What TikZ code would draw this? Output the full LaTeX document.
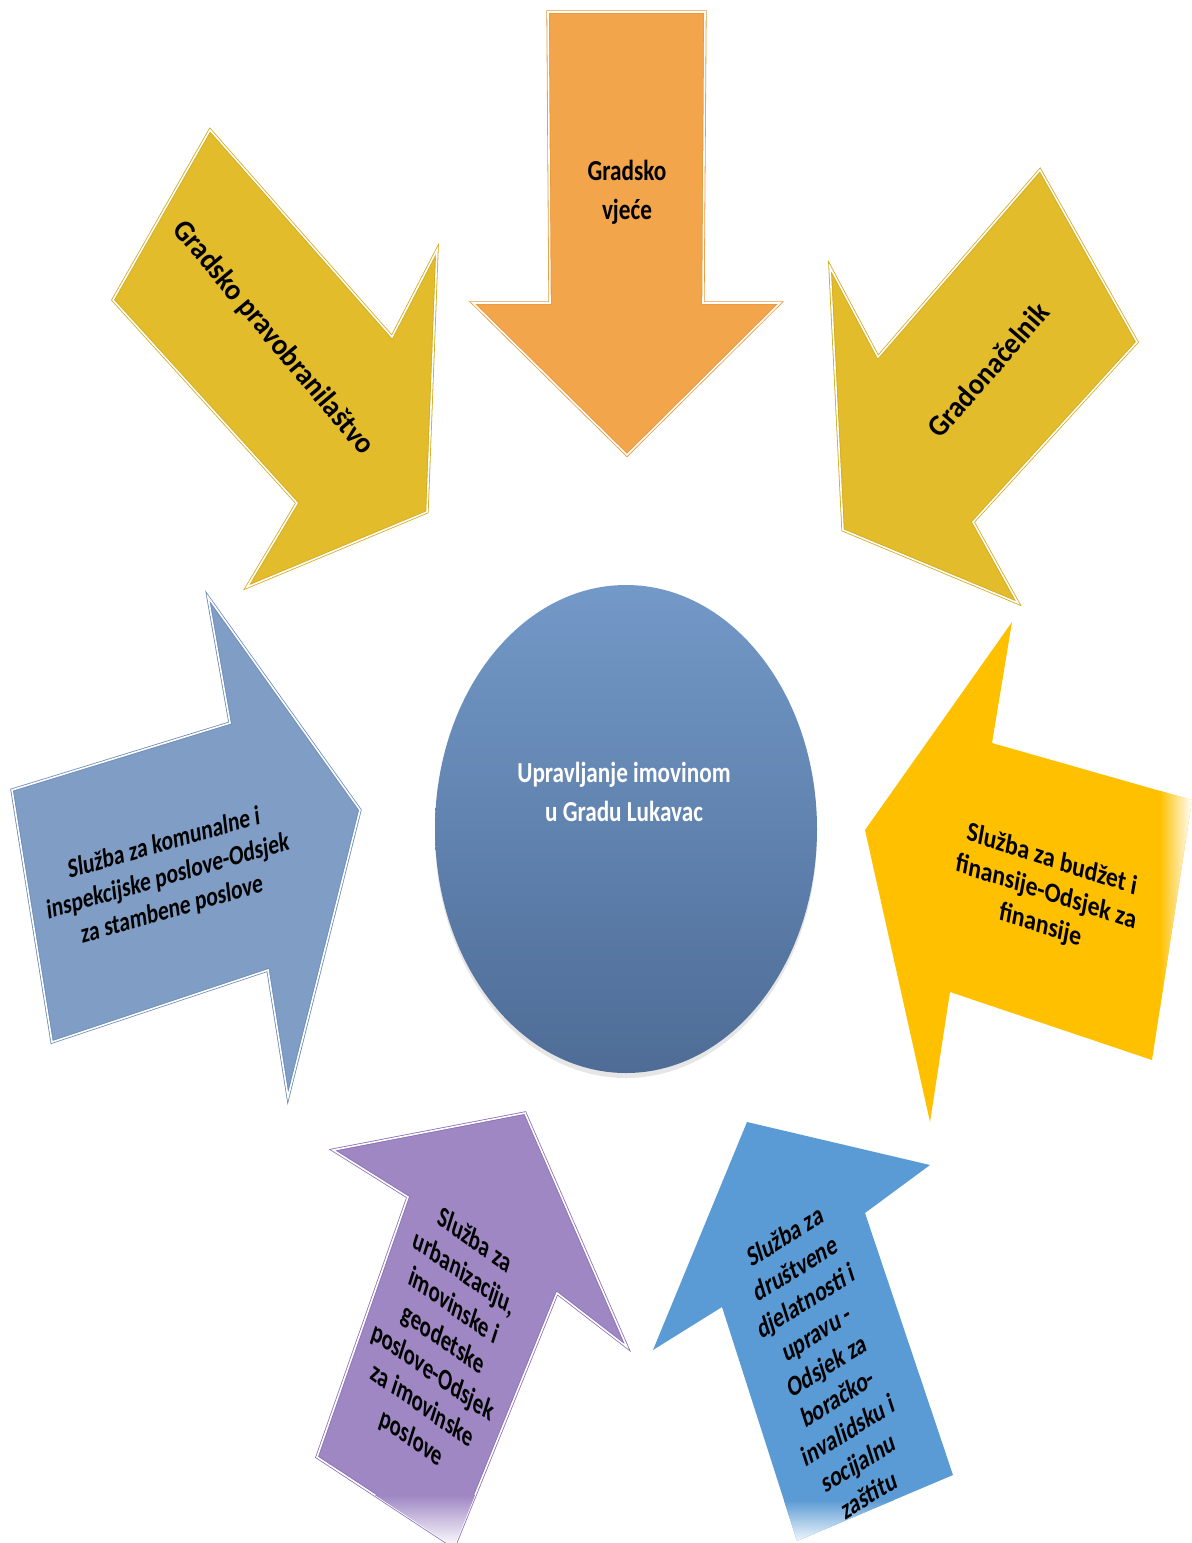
\documentclass[tikz,border=0pt]{standalone}
\usepackage{fontspec}
\setmainfont{Carlito}
\usetikzlibrary{shapes,shadows}

\definecolor{councilfill}{HTML}{F2A54B}
\definecolor{councilline}{HTML}{E8983B}
\definecolor{goldfill}{HTML}{E3BC2C}
\definecolor{goldline}{HTML}{D2AA1C}
\definecolor{housingfill}{HTML}{7F9DC5}
\definecolor{housingline}{HTML}{6D8CB8}
\definecolor{financefill}{HTML}{FFC000}
\definecolor{propertyfill}{HTML}{9F87C4}
\definecolor{propertyline}{HTML}{8A70B5}
\definecolor{socialfill}{HTML}{5B9BD5}
\definecolor{centretop}{HTML}{7399C8}
\definecolor{centrebottom}{HTML}{4E6C96}

\tikzstyle{arrowshape} = [line width=0.8pt, double=white, double distance=1.6pt, line join=miter]
\tikzstyle{caption} = [align=center, inner sep=0pt, font=\bfseries\fontsize{27}{33}\selectfont, xscale=0.85]
\tikzstyle{headcaption} = [align=center, inner sep=0pt, font=\bfseries\fontsize{29}{39}\selectfont, xscale=0.8]
\tikzstyle{longcaption} = [align=center, inner sep=0pt, font=\bfseries\fontsize{30}{39}\selectfont, xscale=0.93]

\begin{document}
\begin{tikzpicture}[x=1pt, y=-1pt]
        \useasboundingbox (0,0) rectangle (1192,1543);
        % arrows coming in from the top
        \filldraw[fill=councilfill, draw=councilline, arrowshape] (548,12) -- (705,12) -- (703,303) -- (780,303) -- (627,455) -- (473,303) -- (550,303) -- cycle;
        \filldraw[fill=goldfill, draw=goldline, arrowshape] (210,130) -- (392,337) -- (437,250) -- (427,512) -- (247,587) -- (297,503) -- (113,300) -- cycle;
        \filldraw[fill=goldfill, draw=goldline, arrowshape] (1040,170) -- (1137,342) -- (973,522) -- (1018,603) -- (843,530) -- (830,267) -- (878,357) -- cycle;
        % arrows at the sides
        \filldraw[fill=housingfill, draw=housingline, arrowshape] (12,790) -- (230,723) -- (208,597) -- (360,810) -- (288,1097) -- (268,970) -- (52,1042) -- cycle;
        \begin{scope}
            \clip (1012,622) -- (992,743) -- (1192,800) -- (1152,1060) -- (950,992) -- (930,1122) -- (865,830) -- cycle;
            \fill[financefill] (860,600) rectangle (1192,1130);
            \shade[left color=financefill, right color=white] (1160,780) rectangle (1192,1080);
        \end{scope}
        % arrows coming in from the bottom
        \filldraw[fill=propertyfill, draw=propertyline, arrowshape] (333,1150) -- (525,1113) -- (627,1347) -- (557,1293) -- (454,1547) -- (317,1457) -- (408,1197) -- cycle;
        \begin{scope}
            \clip (333,1150) -- (525,1113) -- (627,1347) -- (557,1293) -- (454,1547) -- (317,1457) -- (408,1197) -- cycle;
            \shade[top color=propertyfill, bottom color=white] (300,1495) rectangle (640,1547);
        \end{scope}
        \begin{scope}
            \clip (747,1122) -- (930,1165) -- (865,1213) -- (953,1475) -- (797,1541) -- (722,1307) -- (653,1350) -- cycle;
            \fill[socialfill] (640,1110) rectangle (960,1545);
            \shade[top color=socialfill, bottom color=white] (700,1500) rectangle (960,1545);
        \end{scope}
        % centre
        \node[ellipse, minimum width=382pt, minimum height=488pt, inner sep=0pt, top color=centretop, bottom color=centrebottom, drop shadow={opacity=0.2, shadow xshift=0pt, shadow yshift=-5pt}] (centre) at (626,829) {};
        \node[headcaption, text=white] (goal) at (624,792) {Upravljanje imovinom\\u Gradu Lukavac};
        % labels
        \node[headcaption] (council) at (627,192) {Gradsko\\vjeće};
        \node[rotate=-50, longcaption] (lawyer) at (273,338) {Gradsko pravobranilaštvo};
        \node[rotate=49, longcaption] (mayor) at (988,370) {Gradonačelnik};
        \node[rotate=16, xslant=0.16, caption, xscale=0.95] (housing) at (168,877) {Služba za komunalne i\\inspekcijske poslove-Odsjek\\za stambene poslove};
        \node[rotate=-18, xslant=-0.14, caption, xscale=1.06] (finance) at (1046,893) {Služba za budžet i\\finansije-Odsjek za\\finansije};
        \node[rotate=-35, xslant=-0.31, caption] (property) at (443,1340) {Služba za\\urbanizaciju,\\imovinske i\\geodetske\\poslove-Odsjek\\za imovinske\\poslove};
        \node[rotate=32, xslant=0.25, caption] (social) at (827,1365) {Služba za\\društvene\\djelatnosti i\\upravu -\\Odsjek za\\boračko-\\invalidsku i\\socijalnu\\zaštitu};
\end{tikzpicture}
\end{document}
